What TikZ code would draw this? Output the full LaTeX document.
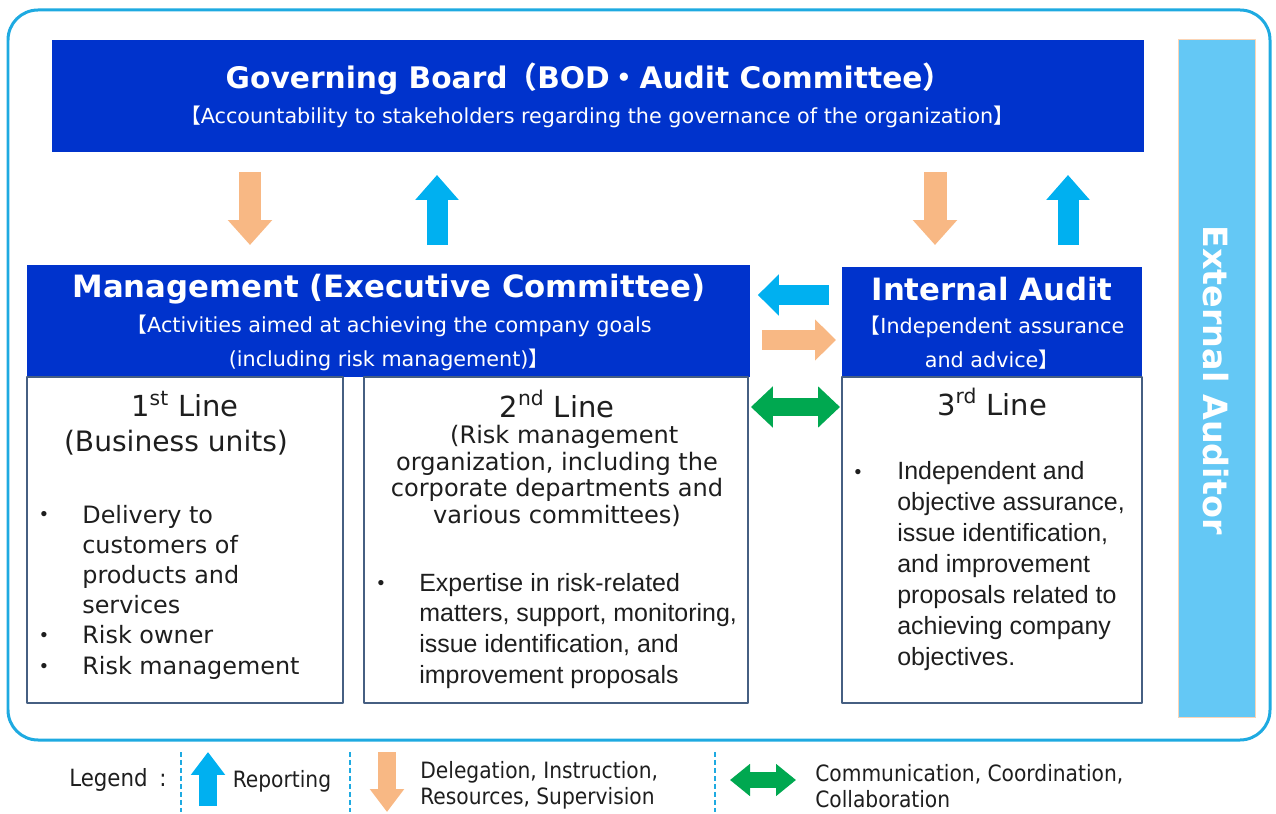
\documentclass[tikz,border=0pt]{standalone}
\usepackage{fontspec}
\setmainfont{DejaVu Sans}
\newfontfamily\arialfont{Liberation Sans}
\newfontfamily\cjkfont{Noto Sans CJK JP}
\newfontfamily\narrowfont{DejaVu Sans Condensed}
\usetikzlibrary{arrows.meta,positioning}
\definecolor{hdblue}{RGB}{0,51,204}
\definecolor{framecyan}{RGB}{30,170,225}
\definecolor{extblue}{RGB}{100,200,245}
\definecolor{peach}{RGB}{248,184,132}
\definecolor{repblue}{RGB}{0,176,240}
\definecolor{grn}{RGB}{0,168,80}
\definecolor{lnslate}{RGB}{70,95,130}
\definecolor{txtdark}{RGB}{30,30,30}
\tikzset{
	hdr/.style={fill=hdblue, inner sep=0, outer sep=0, anchor=north west},
	linebox/.style={draw=lnslate, line width=0.04cm, fill=white, inner sep=0, outer sep=0, anchor=north west},
	ttl/.style={text=white, inner sep=0, font=\bfseries\fontsize{17.5}{20}\selectfont},
	sub/.style={text=white, inner sep=0, align=center, font=\fontsize{11.8}{19.3}\selectfont},
	lhd/.style={text=txtdark, inner sep=0, font=\fontsize{16.5}{19}\selectfont},
	lsub/.style={text=txtdark, inner sep=0, align=center, font=\fontsize{13.7}{15.3}\selectfont},
	body/.style={text=txtdark, inner sep=0, anchor=west, align=left, font=\fontsize{13.6}{17.2}\selectfont},
	abody/.style={text=txtdark, inner sep=0, anchor=west, align=left, font=\arialfont\fontsize{14.2}{17.6}\selectfont},
	dot/.style={text=txtdark, inner sep=0, font=\arialfont\fontsize{11}{12}\selectfont},
	legtxt/.style={text=txtdark, inner sep=0, align=left, font=\narrowfont\fontsize{12.8}{14.7}\selectfont},
	deleg/.style={draw=peach, line width=0.46cm, -{Triangle[length=0.5cm, width=0.86cm]}},
	report/.style={draw=repblue, line width=0.42cm, -{Triangle[length=0.5cm, width=0.84cm]}},
	hdeleg/.style={draw=peach, line width=0.42cm, -{Triangle[length=0.42cm, width=0.8cm]}},
	hreport/.style={draw=repblue, line width=0.4cm, -{Triangle[length=0.42cm, width=0.8cm]}},
	comm/.style={draw=grn, line width=0.38cm, {Triangle[length=0.44cm, width=0.8cm]}-{Triangle[length=0.44cm, width=0.8cm]}},
	legdash/.style={draw=framecyan, line width=0.04cm, dash pattern=on 0.1cm off 0.06cm}
}
\begin{document}
\begin{tikzpicture}[x=0.02cm, y=-0.02cm, line join=round]
	\useasboundingbox (0,0) rectangle (1276,814);
	% outer frame
	\draw[framecyan, line width=0.06cm, rounded corners=0.6cm] (8,10) rectangle (1270,740);
	
	% governing board
	\node[hdr, minimum width=21.84cm, minimum height=2.24cm] (gb) at (52,40) {};
	\node[ttl, font=\bfseries\fontsize{16.9}{20}\selectfont] (gbt) at (589,79) {Governing Board{\cjkfont （}BOD{\cjkfont ・}Audit Committee{\cjkfont ）}};
	\node[sub] (gbs) at (597,117) {{\cjkfont 【}Accountability to stakeholders regarding the governance of the organization{\cjkfont 】}};
	
	% external auditor
	\node[fill=extblue, draw=peach!60, line width=0.02cm, inner sep=0, outer sep=0, anchor=north west, minimum width=1.56cm, minimum height=13.56cm] (ext) at (1178,40) {};
	\node[text=white, rotate=-90, inner sep=0, font=\bfseries\fontsize{19}{22}\selectfont] (extt) at (1216,380) {External Auditor};
	
	% management and internal audit
	\node[hdr, minimum width=14.46cm, minimum height=2.24cm] (mg) at (27,265) {};
	\node[ttl] (mgt) at (389,289) {Management (Executive Committee)};
	\node[sub] (mgs) at (389,343) {{\cjkfont 【}Activities aimed at achieving the company goals\\(including risk management){\cjkfont 】}};
	\node[hdr, minimum width=6cm, minimum height=2.2cm] (ia) at (842,267) {};
	\node[ttl] (iat) at (992,289) {Internal Audit};
	\node[sub] (ias) at (992,343) {{\cjkfont 【}Independent assurance\\and advice{\cjkfont 】}};
	
	% the three lines
	\node[linebox, minimum width=6.32cm, minimum height=6.52cm] (l1) at (27,377) {};
	\node[linebox, minimum width=7.68cm, minimum height=6.52cm] (l2) at (364,377) {};
	\node[linebox, minimum width=6cm, minimum height=6.52cm] (l3) at (842,377) {};
	
	\node[lhd] (l1h) at (185,404) {1\textsuperscript{st} Line};
	\node[lhd, font=\fontsize{16}{19}\selectfont] (l1s) at (176,443) {(Business units)};
	\node[body] (l1b) at (82,592) {Delivery to\\customers of\\products and\\services\\Risk owner\\Risk management};
	\node[dot] (d1a) at (44,516) {•};
	\node[dot] (d1b) at (44,637) {•};
	\node[dot] (d1c) at (44,668) {•};
	
	\node[lhd] (l2h) at (557,404) {2\textsuperscript{nd} Line};
	\node[lsub] (l2s) at (557,476) {\hspace{0.6em}(Risk management\\organization, including the\\corporate departments and\\various committees)};
	\node[abody] (l2b) at (419,631) {Expertise in risk-related\\matters, support, monitoring,\\issue identification, and\\improvement proposals};
	\node[dot] (d2a) at (381,585) {•};
	
	\node[lhd] (l3h) at (992,402) {3\textsuperscript{rd} Line};
	\node[abody] (l3b) at (897,566) {Independent and\\objective assurance,\\issue identification,\\and improvement\\proposals related to\\achieving company\\objectives.};
	\node[dot] (d3a) at (858,474) {•};
	
	% block arrows
	\coordinate (c1) at (250,0);
	\coordinate (c2) at (437,0);
	\coordinate (c3) at (935,0);
	\coordinate (c4) at (1068,0);
	\coordinate (h1) at (0,295);
	\coordinate (h2) at (0,340);
	\coordinate (h3) at (0,407);
	\draw[deleg, shorten <=0.4cm, shorten >=0.4cm] (gb.south -| c1) -- (mg.north -| c1);
	\draw[report, shorten <=0.4cm, shorten >=0.46cm] (mg.north -| c2) -- (gb.south -| c2);
	\draw[deleg, shorten <=0.4cm, shorten >=0.44cm] (gb.south -| c3) -- (ia.north -| c3);
	\draw[report, shorten <=0.44cm, shorten >=0.46cm] (ia.north -| c4) -- (gb.south -| c4);
	\draw[hreport, shorten <=0.26cm, shorten >=0.16cm] (ia.west |- h1) -- (mg.east |- h1);
	\draw[hdeleg, shorten <=0.24cm, shorten >=0.12cm] (mg.east |- h2) -- (ia.west |- h2);
	\draw[comm, shorten <=0.06cm, shorten >=0.04cm] (l2.east |- h3) -- (l3.west |- h3);
	
	% legend
	\node[legtxt, font=\narrowfont\fontsize{13.5}{15}\selectfont] (lg) at (118,780) {Legend\hspace{0.5em}:};
	\draw[legdash] (181,752) -- (181,812);
	\draw[legdash] (350,752) -- (350,812);
	\draw[legdash] (715,752) -- (715,812);
	\coordinate (r0) at (208,806);
	\coordinate (r1) at (208,752);
	\draw[draw=repblue, line width=0.36cm, -{Triangle[length=0.46cm, width=0.66cm]}] (r0) -- (r1);
	\node[legtxt] (lgr) at (282,781) {Reporting};
	\coordinate (o0) at (387,752);
	\coordinate (o1) at (387,812);
	\draw[draw=peach, line width=0.36cm, -{Triangle[length=0.46cm, width=0.66cm]}] (o0) -- (o1);
	\node[legtxt, anchor=west] (lgd) at (420,785) {Delegation, Instruction,\\Resources, Supervision};
	\coordinate (g0) at (730,780);
	\coordinate (g1) at (796,780);
	\draw[draw=grn, line width=0.32cm, {Triangle[length=0.4cm, width=0.62cm]}-{Triangle[length=0.4cm, width=0.62cm]}] (g0) -- (g1);
	\node[legtxt, anchor=west] (lgc) at (815,786) {Communication, Coordination,\\Collaboration};
\end{tikzpicture}
\end{document}
